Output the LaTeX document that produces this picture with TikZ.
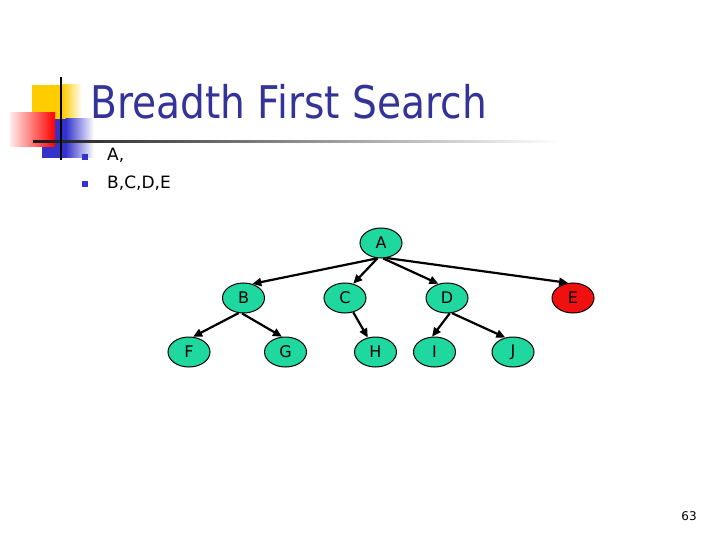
\documentclass[tikz,border=0pt]{standalone}
\usepackage{fontspec}
\usetikzlibrary{shapes.geometric,arrows.meta}
\newfontfamily\tahti[FakeStretch=0.87]{DejaVu Sans}
\newfontfamily\djv{DejaVu Sans}
\definecolor{titleblue}{HTML}{333399}
\definecolor{bulblue}{HTML}{3333CC}
\definecolor{nodegreen}{HTML}{1FD8A0}
\definecolor{nodered}{HTML}{F01010}
\definecolor{decoyellow}{HTML}{FFCC00}
\tikzset{
  vtx/.style={ellipse,draw=black,line width=1pt,fill=nodegreen,minimum width=42pt,minimum height=30pt,inner sep=0pt,font=\djv\fontsize{16}{16}\selectfont},
  vtxred/.style={vtx,fill=nodered},
  edg/.style={line width=2.2pt,-{Triangle[length=9pt,width=8pt]}},
  bul/.style={fill=bulblue,minimum size=6pt,inner sep=0pt},
  btext/.style={anchor=base west,inner sep=0pt,font=\djv\fontsize{17}{17}\selectfont}
}
\begin{document}
\begin{tikzpicture}[x=1pt,y=-1pt]
\useasboundingbox (0,0) rectangle (720,540);
% decoration
\fill[decoyellow] (32,85) rectangle (63,119);
\shade[left color=decoyellow,right color=white] (62.5,85) rectangle (82,119);
\fill[bulblue] (42,119) rectangle (66,158);
\shade[left color=bulblue,right color=white] (65.5,119) rectangle (94,158);
\shade[left color=red!8,right color=red] (10,113) rectangle (55,147);
\shade[left color=black!90,right color=white] (33,140.2) rectangle (560,142.6);
\draw[line width=2pt,black] (61,77) -- (61,160);
% title
\node[anchor=base west,inner sep=0pt,text=titleblue,font=\tahti\fontsize{45}{45}\selectfont] (title) at (90,119) {Breadth First Search};
% bullets
\node[bul] (b1) at (85,157) {};
\node[bul] (b2) at (85,184) {};
\node[btext] (t1) at (107,161) {A,};
\node[btext] (t2) at (107,189) {B,C,D,E};
% tree
\node[vtx] (A) at (381,243) {A};
\node[vtx] (B) at (243.5,298) {B};
\node[vtx] (C) at (345,298) {C};
\node[vtx] (D) at (447,298) {D};
\node[vtxred] (E) at (573,298) {E};
\node[vtx] (F) at (189,352) {F};
\node[vtx] (G) at (285.5,352) {G};
\node[vtx] (H) at (375.5,352) {H};
\node[vtx] (I) at (434.5,352) {I};
\node[vtx] (J) at (513,352) {J};
\draw[edg] (A.-103) -- (B.58);
\draw[edg] (A.-103) -- (C.60);
\draw[edg] (A.-82) -- (D.121);
\draw[edg] (A.-70) -- (E.108);
\draw[edg] (B.-108) -- (F.75);
\draw[edg] (B.-95) -- (G.103);
\draw[edg] (C.-60) -- (H.118);
\draw[edg] (D.-80) -- (I.99);
\draw[edg] (D.-72) -- (J.118);
% page number
\node[inner sep=0pt,font=\djv\fontsize{12}{12}\selectfont] (pg) at (689,516) {63};
\end{tikzpicture}
\end{document}
